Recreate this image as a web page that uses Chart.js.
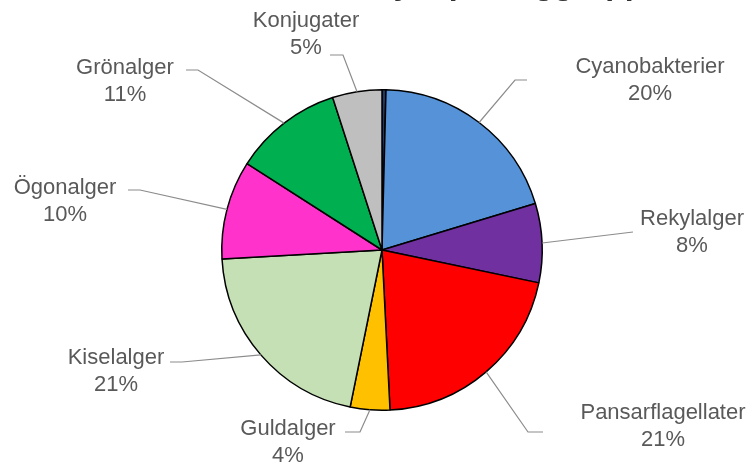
<!DOCTYPE html>
<html lang="sv">
<head>
    <meta charset="UTF-8">
    <title>Alggrupper</title>
    <script src="https://cdn.jsdelivr.net/npm/chart.js"></script>
    <style>
        html, body { margin: 0; padding: 0; background: #fff; }
        .wrap { width: 754px; height: 463px; position: relative; }
    </style>
</head>
<body>
<div class="wrap"><canvas id="pie" width="754" height="463"></canvas></div>
<script>
    // andelar i procent, medurs från klockan tolv
    const groups = ['', 'Cyanobakterier', 'Rekylalger', 'Pansarflagellater', 'Guldalger',
                    'Kiselalger', 'Ögonalger', 'Grönalger', 'Konjugater'];
    const shares = [0.4, 20, 8, 21, 4, 21, 10, 11, 5];
    const shareLabels = ['', '20%', '8%', '21%', '4%', '21%', '10%', '11%', '5%'];
    const colors = ['#1f3864', '#5592d8', '#7030a0', '#ff0000', '#ffc000',
                    '#c5e0b4', '#ff33cc', '#00b050', '#bfbfbf'];

    // var texten står (mitt på första raden) och var ledarlinjen slutar
    const labelPos = [
        null,
        { x: 650, y: 67, lx: 527, ly: 80, dx: -12 },
        { x: 692, y: 219, lx: 633, ly: 232, dx: 0 },
        { x: 663, y: 413, lx: 543, ly: 432, dx: -15 },
        { x: 288, y: 429, lx: 345, ly: 432, dx: 15 },
        { x: 116, y: 358, lx: 170, ly: 362, dx: 12 },
        { x: 65, y: 188, lx: 128, ly: 190, dx: 12 },
        { x: 125, y: 68, lx: 186, ly: 70, dx: 12 },
        { x: 306, y: 21, lx: 330, ly: 55, dx: 13 }
    ];

    const labelPlugin = {
        id: 'sliceLabels',
        afterDatasetsDraw(chart) {
            const ctx = chart.ctx;
            const arcs = chart.getDatasetMeta(0).data;
            ctx.save();
            // rubriken ovanför, bara nederkanten syns
            ctx.fillStyle = '#333';
            ctx.font = 'bold 32px "Liberation Sans", Arial, sans-serif';
            ctx.textAlign = 'center';
            ctx.textBaseline = 'alphabetic';
            ctx.fillText('Biovolym per alggrupp', 470, -6);

            arcs.forEach((arc, i) => {
                const p = labelPos[i];
                if (!p) return;
                const mid = (arc.startAngle + arc.endAngle) / 2;
                const sx = arc.x + Math.cos(mid) * arc.outerRadius;
                const sy = arc.y + Math.sin(mid) * arc.outerRadius;
                ctx.strokeStyle = '#8c8c8c';
                ctx.lineWidth = 1.2;
                ctx.beginPath();
                ctx.moveTo(p.lx, p.ly);
                ctx.lineTo(p.lx + p.dx, p.ly);
                ctx.lineTo(sx, sy);
                ctx.stroke();

                ctx.fillStyle = '#595959';
                ctx.font = '22px "Liberation Sans", Arial, sans-serif';
                ctx.textAlign = 'center';
                ctx.textBaseline = 'middle';
                ctx.fillText(groups[i], p.x, p.y);
                ctx.fillText(shareLabels[i], p.x, p.y + 27);
            });
            ctx.restore();
        }
    };

    new Chart(document.getElementById('pie'), {
        type: 'pie',
        data: {
            labels: groups,
            datasets: [{
                data: shares,
                backgroundColor: colors,
                borderColor: '#000',
                borderWidth: 1.5
            }]
        },
        options: {
            responsive: false,
            animation: false,
            layout: { padding: { top: 89, bottom: 52, left: 10, right: 0 } },
            plugins: {
                legend: { display: false },
                tooltip: { enabled: false }
            }
        },
        plugins: [labelPlugin]
    });
</script>
</body>
</html>
